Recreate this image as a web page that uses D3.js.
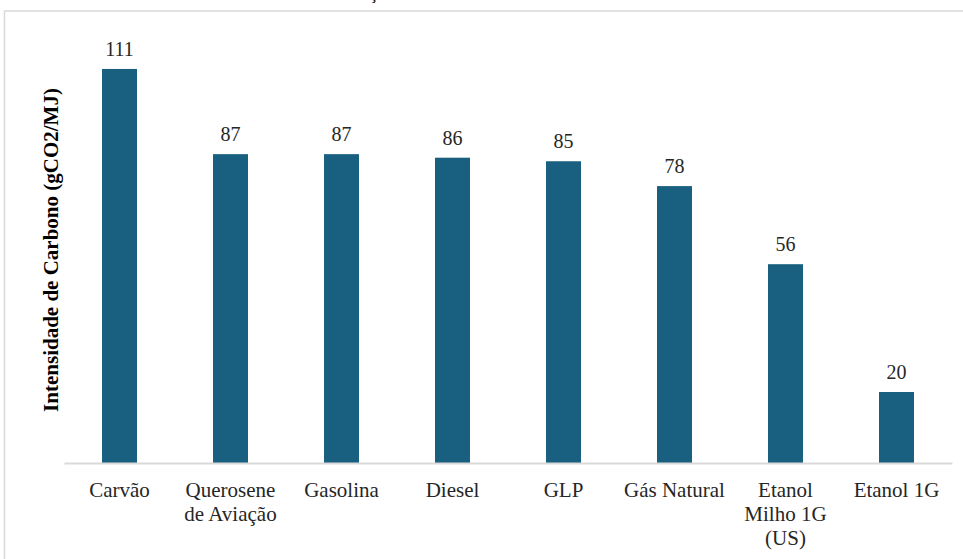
<!DOCTYPE html>
<html>
<head>
<meta charset="utf-8">
<script src="https://cdn.jsdelivr.net/npm/d3@7"></script>
<style>
  html, body { margin: 0; padding: 0; background: #fff; }
  svg { display: block; }
</style>
</head>
<body>
<script>
// Carbon intensity of fuels (gCO2/MJ)
const categories = [
  ["Carvão"],
  ["Querosene", "de Aviação"],
  ["Gasolina"],
  ["Diesel"],
  ["GLP"],
  ["Gás Natural"],
  ["Etanol", "Milho 1G", "(US)"],
  ["Etanol 1G"]
];
const values = [111, 87, 87, 86, 85, 78, 56, 20];
const yAxisTitle = "Intensidade de Carbono (gCO2/MJ)";
const chartTitle = "Relação";

const W = 963, H = 559;
const serif = "Liberation Serif, Times New Roman, serif";
const svg = d3.select("body").append("svg").attr("width", W).attr("height", H);

// chart area frame
svg.append("rect")
  .attr("x", 4.5).attr("y", 11)
  .attr("width", W + 10).attr("height", H + 10)
  .attr("fill", "none").attr("stroke", "#d9d9d9").attr("stroke-width", 1.5);

// title (sits above the chart frame)
svg.append("text")
  .attr("x", 339).attr("y", -1)
  .style("font-family", serif)
  .style("font-weight", "bold").style("font-size", "16px").attr("fill", "#262626")
  .text(chartTitle);

const x = d3.scaleBand()
  .domain(d3.range(values.length))
  .range([64, 952])
  .paddingInner(0.685)
  .paddingOuter(0.3425);

const y = d3.scaleLinear().domain([0, 120]).range([463, 37]);

// bars
svg.append("g").selectAll("rect")
  .data(values)
  .join("rect")
  .attr("x", (d, i) => x(i))
  .attr("y", d => y(d))
  .attr("width", x.bandwidth())
  .attr("height", d => y(0) - y(d))
  .attr("fill", "#185f80");

// value labels
svg.append("g").selectAll("text")
  .data(values)
  .join("text")
  .attr("x", (d, i) => x(i) + x.bandwidth() / 2)
  .attr("y", d => y(d) - 13)
  .attr("text-anchor", "middle")
  .style("font-family", serif).style("font-size", "20px").attr("fill", "#262626")
  .text(d => d);

// category axis
const xAxis = svg.append("g")
  .attr("transform", `translate(0,${y(0)})`)
  .call(d3.axisBottom(x).tickSize(0).tickFormat(""));
xAxis.select(".domain").attr("stroke", "#d9d9d9").attr("stroke-width", 2);

const labels = svg.append("g").selectAll("text")
  .data(categories)
  .join("text")
  .attr("x", (d, i) => x(i) + x.bandwidth() / 2)
  .attr("y", 497)
  .attr("text-anchor", "middle")
  .style("font-family", serif).style("font-size", "21px").attr("fill", "#262626");
labels.each(function(lines) {
  const t = d3.select(this);
  const cx = t.attr("x");
  lines.forEach((ln, k) => {
    t.append("tspan").attr("x", cx).attr("dy", k === 0 ? 0 : 24).text(ln);
  });
});

// y-axis title
svg.append("text")
  .attr("transform", "translate(58,250) rotate(-90)")
  .attr("text-anchor", "middle")
  .style("font-family", serif).style("font-weight", "bold").style("font-size", "21px")
  .attr("fill", "#000")
  .text(yAxisTitle);
</script>
</body>
</html>
